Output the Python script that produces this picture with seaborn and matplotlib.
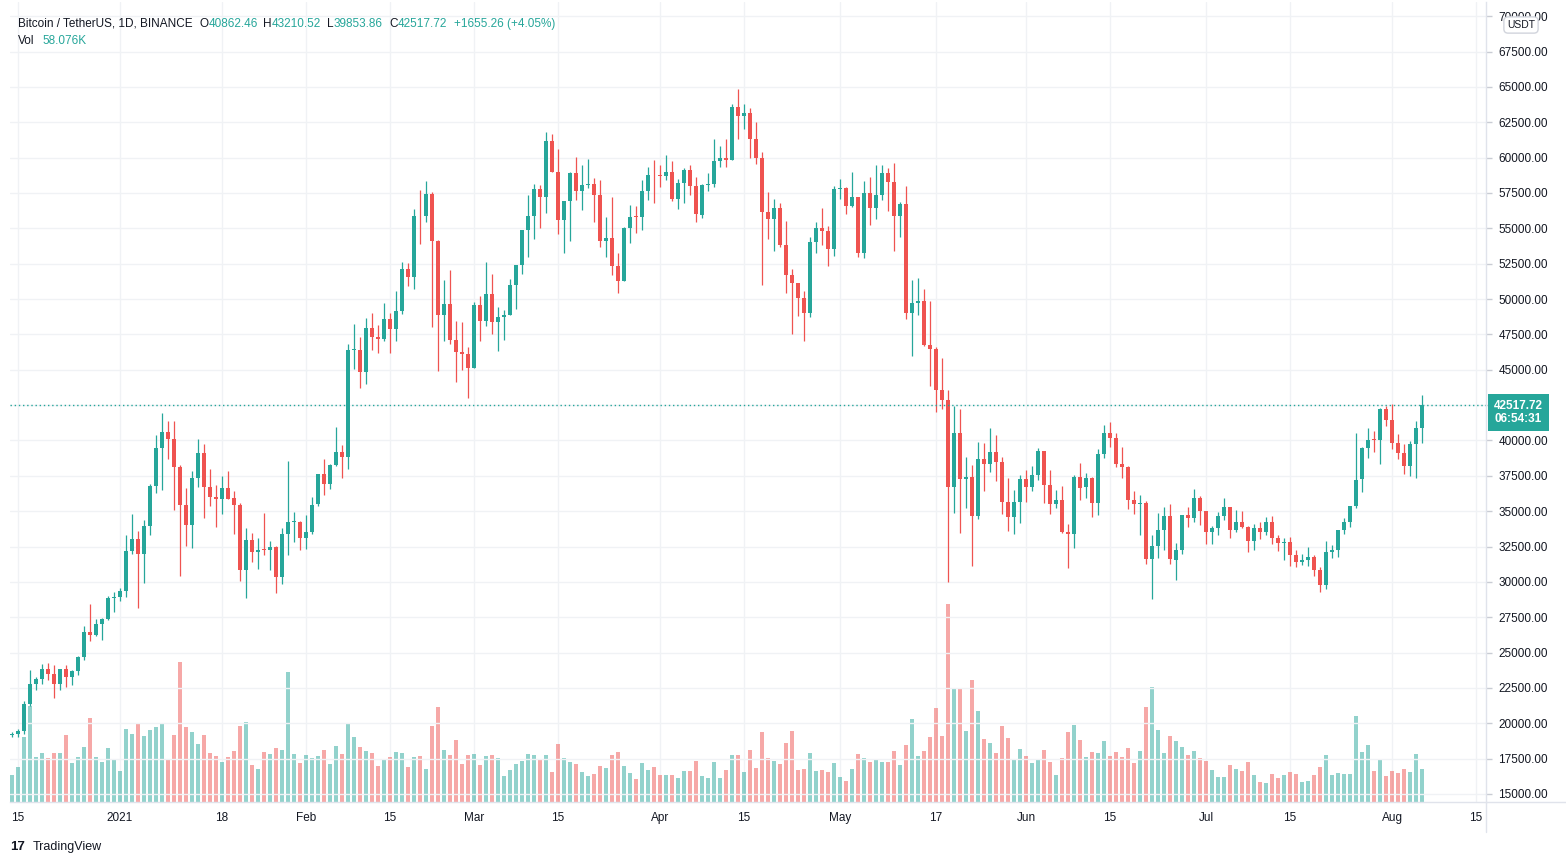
import numpy as np
import pandas as pd
import matplotlib
matplotlib.use("Agg")
import matplotlib.pyplot as plt
import matplotlib.transforms as mtransforms
import seaborn as sns

# BTC/USDT daily candles (Binance), 2020-12-14 .. 2021-08-06
start_date = "2020-12-14"
end_date = "2021-08-06"

opens = [
    # Dec
    19174, 19273, 19427, 21335, 22800, 23137, 23869, 23478, 22745, 23824, 23255, 23715, 24693, 26443, 26246, 27025, 27350, 28856,
    # Jan
    28923, 29331, 32176, 33000, 31981, 33950, 36769, 39433, 40586, 40088, 38150, 35410, 34049, 37371, 39145, 36737, 35994, 35825,
    36622, 35901, 35468, 30851, 32950, 32078, 32259, 32254, 32464, 30362, 33368, 34246, 34262,
    # Feb
    33092, 33517, 35472, 37620, 36936, 38289, 39181, 38795, 46374, 46420, 44807, 47969, 47298, 47157, 48580, 47911, 49133, 52117,
    51552, 55906, 55841, 57412, 54087, 48891, 49676, 47073, 46276, 46104,
    # Mar
    45134, 49595, 48436, 50349, 48374, 48747, 48882, 50959, 52376, 54874, 55852, 57774, 57222, 61188, 58976, 55605, 56901, 58912,
    57641, 58030, 58100, 57351, 54083, 54342, 52303, 51293, 55026, 55817, 55777, 57635, 58746,
    # Apr
    58740, 58720, 58950, 57053, 58202, 59129, 57991, 55953, 58077, 58142, 59778, 60001, 59860, 63575, 62960, 63159, 61334, 60006,
    56150, 55634, 56426, 53788, 51690, 51110, 50047, 49004, 54031, 55033, 54825, 53556,
    # May
    57750, 57826, 56610, 57214, 53241, 57474, 56428, 57380, 58929, 58281, 55883, 56751, 49007, 49691, 49881, 46760, 46456, 43538,
    42850, 36690, 40527, 37253, 37447, 34656, 38705, 38355, 39174, 38488, 35658, 34582, 35634,
    # Jun
    37253, 36694, 37568, 39246, 36830, 35517, 35796, 33556, 33381, 37388, 36677, 37331, 35546, 39020, 40516, 40143, 38350, 38093,
    35820, 35484, 35601, 31614, 32509, 33675, 34663, 31577, 32283, 34702, 34494, 35911,
    # Jul
    35045, 33502, 33786, 34669, 35288, 33690, 34220, 33863, 32875, 33824, 33515, 34260, 33086, 32729, 32820, 31874, 31384, 31521,
    31778, 30839, 29790, 32144, 32287, 33635, 34262, 35381, 37241, 39456, 40019, 40018, 42206,
    # Aug
    41461, 39850, 39146, 38208, 39744, 40862.46,
]

highs = [
    19349, 19570, 21560, 23800, 23285, 24171, 24295, 24102, 23837, 24100, 23794, 24789, 26867, 28422, 27389, 27410, 28996, 29300,
    29600, 33300, 34778, 33600, 34360, 36939, 40365, 41950, 41380, 41350, 38264, 36628, 37850, 40100, 39747, 37950, 36852, 37469,
    37850, 36415, 35600, 33826, 33456, 33071, 34875, 32921, 32557, 33783, 38531, 34933, 34288,
    34717, 35984, 37662, 38708, 38310, 40955, 39700, 46794, 48200, 47310, 48678, 48985, 48150, 49707, 49010, 50600, 52618, 52530,
    56368, 57700, 58352, 57534, 54183, 51374, 52041, 48424, 48395, 46638,
    49790, 50200, 52640, 51773, 49448, 49200, 51450, 52402, 54895, 57387, 58150, 58058, 61844, 61683, 60633, 56938, 58982, 60040,
    59469, 59880, 58592, 58430, 55830, 57200, 53230, 55073, 56640, 56559, 58405, 59368, 59800,
    59490, 60200, 59791, 58492, 59251, 59475, 58650, 58153, 58894, 61300, 60800, 61300, 63774, 64854, 63800, 63520, 62506, 60400,
    57600, 57048, 56757, 55500, 52130, 51167, 50591, 54356, 55460, 56428, 55195, 57963,
    58458, 57926, 58973, 57216, 58360, 58650, 59500, 59500, 59300, 59592, 56888, 58000, 51367, 51483, 50700, 49850, 46643, 45799,
    43546, 42451, 42200, 38850, 38270, 39920, 39791, 40900, 40411, 38856, 37338, 36488, 37534,
    37896, 38225, 39476, 39289, 37925, 36480, 36790, 34068, 37534, 38400, 37680, 37445, 39380, 41064, 41330, 40527, 39559, 38202,
    36457, 36137, 35750, 33298, 34881, 35298, 35500, 32730, 34749, 35297, 36600, 36100,
    35035, 33939, 34909, 35937, 35293, 35059, 35000, 33929, 34100, 34262, 34592, 34678, 33340, 33114, 33185, 32249, 31950, 32435,
    31899, 31063, 32858, 32575, 33650, 34500, 35398, 40550, 39542, 40900, 40640, 42316, 42448,
    42599, 40459, 39780, 39969, 41350, 43210.52,
]

lows = [
    19000, 19050, 19254, 21230, 22350, 22750, 23060, 21815, 22353, 22600, 22703, 23433, 24500, 25800, 26207, 25880, 27320, 27850,
    28624, 28946, 31963, 28130, 29900, 33288, 36300, 36500, 38720, 35111, 30420, 32531, 32380, 36701, 34538, 35357, 33850, 34800,
    35844, 33400, 30071, 28850, 31390, 30900, 31910, 30837, 29241, 29842, 31915, 32825, 32270,
    32296, 33418, 35362, 36161, 36570, 38215, 37351, 37988, 45020, 43727, 43995, 46400, 46202, 47014, 46174, 47003, 48947, 50901,
    50710, 53863, 55477, 48000, 44892, 47003, 46813, 44106, 45000, 43000,
    45115, 47047, 48100, 47500, 46300, 47070, 48882, 49274, 51789, 53005, 54269, 55013, 56079, 58966, 54568, 53271, 54123, 57023,
    56270, 57820, 55450, 53650, 53000, 51700, 50427, 51283, 53967, 54691, 54900, 57000, 56769,
    57935, 58448, 56956, 56400, 56800, 57333, 55473, 55700, 57654, 57900, 59360, 59350, 59805, 61301, 62020, 60000, 59580, 51000,
    54221, 53408, 53695, 50400, 47500, 48805, 47045, 48753, 53222, 53813, 52330, 53013,
    57053, 56035, 56478, 53000, 52900, 55200, 55635, 56972, 56235, 53400, 54370, 48600, 46000, 48868, 46650, 43825, 42001, 42250,
    30000, 34864, 33488, 35200, 31111, 34413, 36419, 37800, 37134, 34779, 33632, 33379, 34153,
    35666, 36450, 37170, 35555, 34800, 35258, 33480, 31000, 32396, 35800, 35936, 34600, 34757, 38730, 39506, 38116, 37365, 35129,
    34833, 33336, 31251, 28805, 31683, 32286, 31275, 30151, 32000, 33862, 34225, 34017,
    32712, 32699, 33322, 34396, 33125, 33532, 33780, 32077, 32261, 33004, 33300, 32658, 32202, 31550, 31133, 31020, 31164, 31108,
    30407, 29278, 29482, 31708, 31780, 33401, 33881, 35205, 36383, 38772, 39200, 38313, 41000,
    39422, 38690, 37642, 37508, 37332, 39853.86,
]

closes = [
    19273, 19427, 21335, 22800, 23137, 23869, 23478, 22745, 23824, 23255, 23715, 24693, 26443, 26246, 27025, 27350, 28856, 28923,
    29331, 32178, 33000, 31988, 33949, 36769, 39432, 40582, 40088, 38150, 35404, 34051, 37371, 39144, 36742, 35994, 35828, 36631,
    35891, 35468, 30850, 32945, 32078, 32259, 32254, 32467, 30366, 33364, 34252, 34262, 33093,
    33526, 35466, 37619, 36936, 38290, 39186, 38795, 46374, 46420, 44807, 47969, 47287, 47153, 48577, 47911, 49133, 52119, 51552,
    55906, 55841, 57408, 54087, 48891, 49676, 47073, 46277, 46106, 45135,
    49587, 48440, 50349, 48374, 48751, 48882, 50971, 52375, 54884, 55851, 57773, 57221, 61188, 58968, 55605, 56900, 58912, 57648,
    58030, 58102, 57351, 54083, 54340, 52303, 51293, 55025, 55817, 55777, 57636, 58746, 58740,
    58720, 58950, 57055, 58202, 59129, 57992, 56000, 58077, 58142, 59770, 60007, 59860, 63575, 62959, 63159, 61334, 60006, 56150,
    55633, 56425, 53787, 51691, 51125, 50048, 49004, 54021, 55033, 54824, 53555, 57750,
    57828, 56610, 57213, 53241, 57473, 56428, 57380, 58928, 58280, 55883, 56750, 49007, 49716, 49880, 46760, 46456, 43538, 42849,
    36690, 40527, 37252, 37449, 34656, 38705, 38354, 39174, 38487, 35658, 34581, 35634, 37253,
    36694, 37568, 39246, 36829, 35513, 35797, 33552, 33380, 37389, 36662, 37323, 35544, 39020, 40516, 40144, 38349, 38092, 35820,
    35483, 35600, 31608, 32509, 33678, 34663, 31584, 32283, 34700, 34494, 35911, 35045,
    33504, 33786, 34669, 35287, 33691, 34220, 33863, 32875, 33815, 33516, 34259, 33087, 32729, 32820, 31880, 31383, 31521, 31778,
    30839, 29790, 32144, 32287, 33634, 34258, 35381, 37237, 39457, 40019, 40016, 42206, 41461,
    39845, 39147, 38208, 39723, 40862, 42517.72,
]

# volume in thousands of BTC
volumes_k = [
    48, 62, 114, 169, 79, 86, 77, 86, 86, 118, 69, 79, 97, 148, 79, 70, 95, 76,
    55, 128, 120, 139, 116, 127, 132, 139, 76, 118, 246, 132, 123, 102, 118, 86, 81, 70, 79, 90, 134, 141, 65, 58, 88, 84, 95, 92,
    229, 84, 69,
    83, 77, 81, 92, 67, 99, 84, 137, 114, 97, 90, 86, 63, 74, 79, 88, 86, 62, 79, 81, 58, 134, 167, 92, 83, 109, 67, 83,
    84, 65, 81, 83, 77, 46, 56, 67, 72, 84, 83, 74, 83, 53, 102, 77, 70, 67, 53, 46, 49, 63, 60, 83, 88, 63, 51, 40, 69, 56, 62,
    48, 48, 48, 42, 55, 55, 72, 46, 42, 70, 42, 56, 83, 83, 53, 92, 60, 123, 77, 72, 67, 104, 125, 56, 58, 86, 55, 56, 53, 69,
    44, 37, 58, 84, 77, 70, 74, 70, 70, 90, 65, 100, 146, 81, 90, 114, 165, 116, 348, 201, 199, 125, 215, 160, 111, 104, 86, 134,
    113, 74, 93,
    81, 69, 76, 92, 70, 48, 77, 123, 136, 109, 79, 88, 86, 107, 81, 88, 79, 95, 69, 90, 167, 202, 127, 86, 116, 107, 97, 83, 90, 77,
    72, 56, 44, 44, 65, 58, 55, 70, 48, 35, 33, 49, 42, 48, 53, 49, 35, 37, 48, 62, 83, 48, 51, 49, 49, 151, 88, 100, 55, 74, 46,
    55, 51, 58, 53, 84, 58.076,
]

tick_dates = ["2020-12-15", "2021-01-01", "2021-01-18", "2021-02-01", "2021-02-15", "2021-03-01", "2021-03-15",
              "2021-04-01", "2021-04-15", "2021-05-01", "2021-05-17", "2021-06-01", "2021-06-15", "2021-07-01",
              "2021-07-15", "2021-08-01", "2021-08-15"]
tick_labels = ["15", "2021", "18", "Feb", "15", "Mar", "15", "Apr", "15", "May", "17", "Jun", "15", "Jul", "15", "Aug", "15"]
price_ticks = list(range(15000, 70001, 2500))

last_price = 42517.72
countdown = "06:54:31"
change_text = "+1655.26 (+4.05%)"

UP = "#26a69a"
DOWN = "#ef5350"
TEXT = "#131722"
GRID = "#f0f2f5"
BORDER = "#e0e3eb"

# Build the table
dates = pd.date_range(start_date, end_date, freq="D")
df = pd.DataFrame({"date": dates, "open": opens, "high": highs, "low": lows,
                   "close": closes, "vol": volumes_k})
df["idx"] = np.arange(len(df))
df["dir"] = np.where(df["close"] >= df["open"], "up", "down")
tick_pos = (pd.to_datetime(tick_dates) - dates[0]).days

sns.set_theme(style="white")
plt.rcParams["font.family"] = ["Liberation Sans", "DejaVu Sans"]

W_PX, H_PX = 1566, 865
fig = plt.figure(figsize=(W_PX / 100, H_PX / 100), dpi=100)
fig.patch.set_facecolor("white")

# pane: x 10..1486, y 2..802 (pixels)
left, bottom = 10 / W_PX, (H_PX - 802) / H_PX
width, height = 1476 / W_PX, 800 / H_PX
ax_vol = fig.add_axes([left, bottom, width, height])
ax = ax_vol.twinx()

# Volume bars behind the candles
sns.barplot(data=df, x="idx", y="vol", hue="dir", palette={"up": UP, "down": DOWN},
            dodge=False, native_scale=True, width=0.8, saturation=1, alpha=0.5,
            errorbar=None, legend=False, linewidth=0, ax=ax_vol)
ax_vol.set_ylim(0, 1406)
ax_vol.set_xlim(-1 / 3, 245 + 2 / 3)
ax_vol.set_xticks(tick_pos)
ax_vol.set_xticklabels(tick_labels)
ax_vol.set_xlabel("")
ax_vol.set_ylabel("")
ax_vol.tick_params(axis="x", length=0, pad=7, labelsize=8.5, labelcolor=TEXT)
ax_vol.tick_params(axis="y", left=False, labelleft=False)
ax_vol.grid(axis="x", color=GRID, linewidth=1)
ax_vol.set_axisbelow(True)
for s in ax_vol.spines.values():
    s.set_visible(False)

# Candles
colors = np.where(df["dir"] == "up", UP, DOWN)
body_low = np.minimum(df["open"], df["close"])
body_h = np.maximum((df["close"] - df["open"]).abs(), 60)
ax.vlines(df["idx"], df["low"], df["high"], colors=colors, linewidth=0.9, zorder=3)
ax.bar(df["idx"], body_h, bottom=body_low, width=0.8, color=colors, linewidth=0, zorder=4)

ax.set_ylim(14434, 71004)
ax.set_yticks(price_ticks)
ax.set_yticklabels([f"{p:.2f}" for p in price_ticks])
ax.tick_params(axis="y", right=True, length=4, width=1, color="#c9ccd4", pad=5,
               labelsize=8.5, labelcolor=TEXT)
ax.grid(axis="y", color=GRID, linewidth=1, zorder=0)
ax.set_axisbelow(True)
for name, s in ax.spines.items():
    if name in ("right", "bottom"):
        s.set_color(BORDER)
        s.set_linewidth(1)
    else:
        s.set_visible(False)

# last price line and label
ax.axhline(last_price, color=UP, linestyle=(0, (1, 2)), linewidth=1, zorder=5)
blend = mtransforms.blended_transform_factory(ax.transAxes, ax.transData)
ax.annotate(f"{last_price:.2f}\n{countdown}", xy=(1.0, last_price), xycoords=blend,
            xytext=(8, 5), textcoords="offset pixels", ha="left", va="top",
            color="white", fontsize=8.5, fontweight="bold", linespacing=1.1,
            bbox=dict(boxstyle="square,pad=0.5", fc=UP, ec="none"),
            annotation_clip=False, zorder=10)

# axis separators
fig.add_artist(plt.Line2D([1486 / W_PX, 1.0], [bottom, bottom], color=BORDER, lw=1, transform=fig.transFigure))
fig.add_artist(plt.Line2D([1486 / W_PX, 1486 / W_PX], [bottom, 1 - 832 / H_PX], color=BORDER, lw=1,
                          transform=fig.transFigure))

# currency badge (covers the top price label, as in the app)
fig.text(1521 / W_PX, 1 - 25 / H_PX, "USDT", ha="center", va="center", fontsize=7.5, color=TEXT,
         bbox=dict(boxstyle="round,pad=0.3,rounding_size=0.4", fc="white", ec="#d1d4dc", lw=1), zorder=20)


# header legend
def px_text(x, y, s, color):
    fig.text(x / W_PX, 1 - y / H_PX, s, ha="left", va="center", fontsize=8.5, color=color)


px_text(18, 24, "Bitcoin / TetherUS, 1D, BINANCE", TEXT)
px_text(199, 24, "O", TEXT)
px_text(209, 24, f"{opens[-1]:.2f}", UP)
px_text(263, 24, "H", TEXT)
px_text(272, 24, f"{highs[-1]:.2f}", UP)
px_text(327, 24, "L", TEXT)
px_text(334, 24, f"{lows[-1]:.2f}", UP)
px_text(389, 24, "C", TEXT)
px_text(398, 24, f"{closes[-1]:.2f}", UP)
px_text(454, 24, change_text, UP)
px_text(18, 41, "Vol", TEXT)
px_text(42, 41, f"{volumes_k[-1]:.3f}K", UP)

# watermark
fig.text(10 / W_PX, 1 - 847 / H_PX, "17", ha="left", va="center", fontsize=9.5, fontweight="heavy", color=TEXT)
fig.text(33 / W_PX, 1 - 847 / H_PX, "TradingView", ha="left", va="center", fontsize=9, color=TEXT)

fig.savefig("out.png", dpi=100, facecolor="white")
